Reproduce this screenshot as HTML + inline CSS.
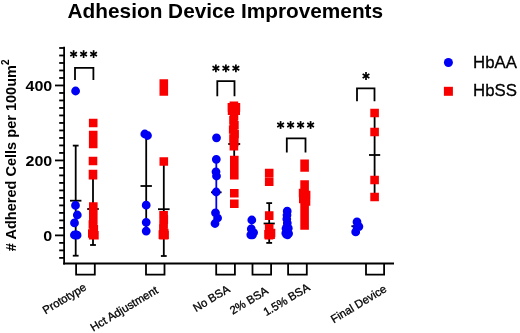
<!DOCTYPE html>
<html><head><meta charset="utf-8">
<style>
html,body{margin:0;padding:0;background:#fff;}
svg{display:block;will-change:transform;}
text{font-family:"Liberation Sans",sans-serif;}
</style></head>
<body>
<svg width="520" height="333" viewBox="0 0 520 333">
<rect width="520" height="333" fill="#fff"/>
<text x="67.6" y="18.3" font-size="20.8" font-weight="bold" fill="#000">Adhesion Device Improvements</text>
<text transform="translate(15.9,251.2) rotate(-90)" font-size="14.55" font-weight="bold" fill="#000"># Adhered Cells per 100um<tspan font-size="10" dy="-7">2</tspan></text>
<g font-size="15.3" font-weight="bold" fill="#000" text-anchor="end">
<text transform="translate(52.3,91.3) scale(1.05,1)">400</text>
<text transform="translate(52.3,166.1) scale(1.05,1)">200</text>
<text transform="translate(52.3,240.9) scale(1.05,1)">0</text>
</g>
<line x1="64.10" y1="46.70" x2="64.10" y2="264.40" stroke="#000" stroke-width="1.8"/>
<line x1="59.20" y1="257.88" x2="64.10" y2="257.88" stroke="#000" stroke-width="1.8"/>
<line x1="59.20" y1="250.38" x2="64.10" y2="250.38" stroke="#000" stroke-width="1.8"/>
<line x1="59.20" y1="242.89" x2="64.10" y2="242.89" stroke="#000" stroke-width="1.8"/>
<line x1="55.00" y1="235.39" x2="64.10" y2="235.39" stroke="#000" stroke-width="1.8"/>
<line x1="59.20" y1="227.89" x2="64.10" y2="227.89" stroke="#000" stroke-width="1.8"/>
<line x1="59.20" y1="220.40" x2="64.10" y2="220.40" stroke="#000" stroke-width="1.8"/>
<line x1="59.20" y1="212.90" x2="64.10" y2="212.90" stroke="#000" stroke-width="1.8"/>
<line x1="59.20" y1="205.41" x2="64.10" y2="205.41" stroke="#000" stroke-width="1.8"/>
<line x1="59.20" y1="197.91" x2="64.10" y2="197.91" stroke="#000" stroke-width="1.8"/>
<line x1="59.20" y1="190.41" x2="64.10" y2="190.41" stroke="#000" stroke-width="1.8"/>
<line x1="59.20" y1="182.92" x2="64.10" y2="182.92" stroke="#000" stroke-width="1.8"/>
<line x1="59.20" y1="175.42" x2="64.10" y2="175.42" stroke="#000" stroke-width="1.8"/>
<line x1="59.20" y1="167.93" x2="64.10" y2="167.93" stroke="#000" stroke-width="1.8"/>
<line x1="55.00" y1="160.43" x2="64.10" y2="160.43" stroke="#000" stroke-width="1.8"/>
<line x1="59.20" y1="152.93" x2="64.10" y2="152.93" stroke="#000" stroke-width="1.8"/>
<line x1="59.20" y1="145.44" x2="64.10" y2="145.44" stroke="#000" stroke-width="1.8"/>
<line x1="59.20" y1="137.94" x2="64.10" y2="137.94" stroke="#000" stroke-width="1.8"/>
<line x1="59.20" y1="130.45" x2="64.10" y2="130.45" stroke="#000" stroke-width="1.8"/>
<line x1="59.20" y1="122.95" x2="64.10" y2="122.95" stroke="#000" stroke-width="1.8"/>
<line x1="59.20" y1="115.45" x2="64.10" y2="115.45" stroke="#000" stroke-width="1.8"/>
<line x1="59.20" y1="107.96" x2="64.10" y2="107.96" stroke="#000" stroke-width="1.8"/>
<line x1="59.20" y1="100.46" x2="64.10" y2="100.46" stroke="#000" stroke-width="1.8"/>
<line x1="59.20" y1="92.97" x2="64.10" y2="92.97" stroke="#000" stroke-width="1.8"/>
<line x1="55.00" y1="85.47" x2="64.10" y2="85.47" stroke="#000" stroke-width="1.8"/>
<line x1="59.20" y1="77.97" x2="64.10" y2="77.97" stroke="#000" stroke-width="1.8"/>
<line x1="59.20" y1="70.48" x2="64.10" y2="70.48" stroke="#000" stroke-width="1.8"/>
<line x1="59.20" y1="62.98" x2="64.10" y2="62.98" stroke="#000" stroke-width="1.8"/>
<line x1="59.20" y1="55.49" x2="64.10" y2="55.49" stroke="#000" stroke-width="1.8"/>
<line x1="59.20" y1="47.99" x2="64.10" y2="47.99" stroke="#000" stroke-width="1.8"/>
<line x1="63.20" y1="263.40" x2="394.00" y2="263.40" stroke="#000" stroke-width="2.0"/>
<polyline points="76.1,263.4 76.1,274.6 94.8,274.6 94.8,263.4" fill="none" stroke="#000" stroke-width="1.8"/>
<polyline points="146.0,263.4 146.0,274.6 164.5,274.6 164.5,263.4" fill="none" stroke="#000" stroke-width="1.8"/>
<polyline points="216.2,263.4 216.2,274.6 234.9,274.6 234.9,263.4" fill="none" stroke="#000" stroke-width="1.8"/>
<polyline points="252.5,263.4 252.5,274.6 271.1,274.6 271.1,263.4" fill="none" stroke="#000" stroke-width="1.8"/>
<polyline points="288.1,263.4 288.1,274.6 306.8,274.6 306.8,263.4" fill="none" stroke="#000" stroke-width="1.8"/>
<polyline points="366.0,263.4 366.0,274.6 384.1,274.6 384.1,263.4" fill="none" stroke="#000" stroke-width="1.8"/>
<line x1="75.70" y1="145.60" x2="75.70" y2="255.70" stroke="#000" stroke-width="1.8"/>
<line x1="72.80" y1="145.60" x2="78.60" y2="145.60" stroke="#000" stroke-width="1.8"/>
<line x1="72.80" y1="255.70" x2="78.60" y2="255.70" stroke="#000" stroke-width="1.8"/>
<line x1="70.00" y1="200.70" x2="81.40" y2="200.70" stroke="#000" stroke-width="1.8"/>
<line x1="93.00" y1="174.00" x2="93.00" y2="245.00" stroke="#000" stroke-width="1.8"/>
<line x1="90.10" y1="174.00" x2="95.90" y2="174.00" stroke="#000" stroke-width="1.8"/>
<line x1="90.10" y1="245.00" x2="95.90" y2="245.00" stroke="#000" stroke-width="1.8"/>
<line x1="87.20" y1="209.00" x2="98.80" y2="209.00" stroke="#000" stroke-width="1.8"/>
<line x1="146.20" y1="138.00" x2="146.20" y2="234.00" stroke="#000" stroke-width="1.8"/>
<line x1="140.50" y1="186.00" x2="151.90" y2="186.00" stroke="#000" stroke-width="1.8"/>
<line x1="163.80" y1="161.40" x2="163.80" y2="256.00" stroke="#000" stroke-width="1.8"/>
<line x1="160.90" y1="161.40" x2="166.70" y2="161.40" stroke="#000" stroke-width="1.8"/>
<line x1="160.90" y1="256.00" x2="166.70" y2="256.00" stroke="#000" stroke-width="1.8"/>
<line x1="158.00" y1="209.20" x2="169.60" y2="209.20" stroke="#000" stroke-width="1.8"/>
<line x1="216.30" y1="159.30" x2="216.30" y2="225.00" stroke="#0000F5" stroke-width="1.8"/>
<line x1="211.00" y1="192.30" x2="221.60" y2="192.30" stroke="#000" stroke-width="1.8"/>
<line x1="234.20" y1="108.00" x2="234.20" y2="178.00" stroke="#000" stroke-width="1.8"/>
<line x1="228.20" y1="144.00" x2="240.20" y2="144.00" stroke="#000" stroke-width="1.8"/>
<line x1="269.20" y1="203.10" x2="269.20" y2="242.90" stroke="#000" stroke-width="1.8"/>
<line x1="266.30" y1="203.10" x2="272.10" y2="203.10" stroke="#000" stroke-width="1.8"/>
<line x1="266.30" y1="242.90" x2="272.10" y2="242.90" stroke="#000" stroke-width="1.8"/>
<line x1="263.60" y1="223.50" x2="274.80" y2="223.50" stroke="#000" stroke-width="1.8"/>
<line x1="351.40" y1="226.20" x2="362.00" y2="226.20" stroke="#000" stroke-width="1.8"/>
<line x1="374.60" y1="113.00" x2="374.60" y2="197.00" stroke="#000" stroke-width="1.8"/>
<line x1="369.00" y1="155.00" x2="380.20" y2="155.00" stroke="#000" stroke-width="1.8"/>
<polyline points="75.0,80.0 75.0,67.8 93.4,67.8 93.4,80.0" fill="none" stroke="#000" stroke-width="1.8"/>
<line x1="73.60" y1="50.20" x2="73.60" y2="58.00" stroke="#000" stroke-width="1.7"/>
<line x1="70.22" y1="52.15" x2="76.98" y2="56.05" stroke="#000" stroke-width="1.7"/>
<line x1="70.22" y1="56.05" x2="76.98" y2="52.15" stroke="#000" stroke-width="1.7"/>
<line x1="83.60" y1="50.20" x2="83.60" y2="58.00" stroke="#000" stroke-width="1.7"/>
<line x1="80.22" y1="52.15" x2="86.98" y2="56.05" stroke="#000" stroke-width="1.7"/>
<line x1="80.22" y1="56.05" x2="86.98" y2="52.15" stroke="#000" stroke-width="1.7"/>
<line x1="93.60" y1="50.20" x2="93.60" y2="58.00" stroke="#000" stroke-width="1.7"/>
<line x1="90.22" y1="52.15" x2="96.98" y2="56.05" stroke="#000" stroke-width="1.7"/>
<line x1="90.22" y1="56.05" x2="96.98" y2="52.15" stroke="#000" stroke-width="1.7"/>
<polyline points="217.3,96.3 217.3,81.2 234.5,81.2 234.5,96.3" fill="none" stroke="#000" stroke-width="1.8"/>
<line x1="215.90" y1="64.40" x2="215.90" y2="72.20" stroke="#000" stroke-width="1.7"/>
<line x1="212.52" y1="66.35" x2="219.28" y2="70.25" stroke="#000" stroke-width="1.7"/>
<line x1="212.52" y1="70.25" x2="219.28" y2="66.35" stroke="#000" stroke-width="1.7"/>
<line x1="225.90" y1="64.40" x2="225.90" y2="72.20" stroke="#000" stroke-width="1.7"/>
<line x1="222.52" y1="66.35" x2="229.28" y2="70.25" stroke="#000" stroke-width="1.7"/>
<line x1="222.52" y1="70.25" x2="229.28" y2="66.35" stroke="#000" stroke-width="1.7"/>
<line x1="235.90" y1="64.40" x2="235.90" y2="72.20" stroke="#000" stroke-width="1.7"/>
<line x1="232.52" y1="66.35" x2="239.28" y2="70.25" stroke="#000" stroke-width="1.7"/>
<line x1="232.52" y1="70.25" x2="239.28" y2="66.35" stroke="#000" stroke-width="1.7"/>
<polyline points="286.8,152.5 286.8,138.3 305.5,138.3 305.5,152.5" fill="none" stroke="#000" stroke-width="1.8"/>
<line x1="280.60" y1="121.10" x2="280.60" y2="128.90" stroke="#000" stroke-width="1.7"/>
<line x1="277.22" y1="123.05" x2="283.98" y2="126.95" stroke="#000" stroke-width="1.7"/>
<line x1="277.22" y1="126.95" x2="283.98" y2="123.05" stroke="#000" stroke-width="1.7"/>
<line x1="290.60" y1="121.10" x2="290.60" y2="128.90" stroke="#000" stroke-width="1.7"/>
<line x1="287.22" y1="123.05" x2="293.98" y2="126.95" stroke="#000" stroke-width="1.7"/>
<line x1="287.22" y1="126.95" x2="293.98" y2="123.05" stroke="#000" stroke-width="1.7"/>
<line x1="300.60" y1="121.10" x2="300.60" y2="128.90" stroke="#000" stroke-width="1.7"/>
<line x1="297.22" y1="123.05" x2="303.98" y2="126.95" stroke="#000" stroke-width="1.7"/>
<line x1="297.22" y1="126.95" x2="303.98" y2="123.05" stroke="#000" stroke-width="1.7"/>
<line x1="310.60" y1="121.10" x2="310.60" y2="128.90" stroke="#000" stroke-width="1.7"/>
<line x1="307.22" y1="123.05" x2="313.98" y2="126.95" stroke="#000" stroke-width="1.7"/>
<line x1="307.22" y1="126.95" x2="313.98" y2="123.05" stroke="#000" stroke-width="1.7"/>
<polyline points="357.0,101.3 357.0,88.3 374.5,88.3 374.5,101.3" fill="none" stroke="#000" stroke-width="1.8"/>
<line x1="366.00" y1="72.10" x2="366.00" y2="79.90" stroke="#000" stroke-width="1.7"/>
<line x1="362.62" y1="74.05" x2="369.38" y2="77.95" stroke="#000" stroke-width="1.7"/>
<line x1="362.62" y1="77.95" x2="369.38" y2="74.05" stroke="#000" stroke-width="1.7"/>
<path d="M71.20,91a4.4,4.4 0 1,0 8.80,0a4.4,4.4 0 1,0 -8.80,0zM71.10,205.4a4.4,4.4 0 1,0 8.80,0a4.4,4.4 0 1,0 -8.80,0zM72.90,215a4.4,4.4 0 1,0 8.80,0a4.4,4.4 0 1,0 -8.80,0zM70.10,222.9a4.4,4.4 0 1,0 8.80,0a4.4,4.4 0 1,0 -8.80,0zM70.00,235a4.4,4.4 0 1,0 8.80,0a4.4,4.4 0 1,0 -8.80,0zM72.70,235.2a4.4,4.4 0 1,0 8.80,0a4.4,4.4 0 1,0 -8.80,0zM71.40,234.6a4.4,4.4 0 1,0 8.80,0a4.4,4.4 0 1,0 -8.80,0zM140.40,134a4.4,4.4 0 1,0 8.80,0a4.4,4.4 0 1,0 -8.80,0zM143.10,135.5a4.4,4.4 0 1,0 8.80,0a4.4,4.4 0 1,0 -8.80,0zM141.80,205.2a4.4,4.4 0 1,0 8.80,0a4.4,4.4 0 1,0 -8.80,0zM141.80,222.3a4.4,4.4 0 1,0 8.80,0a4.4,4.4 0 1,0 -8.80,0zM141.80,231.1a4.4,4.4 0 1,0 8.80,0a4.4,4.4 0 1,0 -8.80,0zM212.10,137.8a4.4,4.4 0 1,0 8.80,0a4.4,4.4 0 1,0 -8.80,0zM211.90,159.3a4.4,4.4 0 1,0 8.80,0a4.4,4.4 0 1,0 -8.80,0zM211.60,171.8a4.4,4.4 0 1,0 8.80,0a4.4,4.4 0 1,0 -8.80,0zM212.10,176a4.4,4.4 0 1,0 8.80,0a4.4,4.4 0 1,0 -8.80,0zM211.80,192a4.4,4.4 0 1,0 8.80,0a4.4,4.4 0 1,0 -8.80,0zM211.10,212.8a4.4,4.4 0 1,0 8.80,0a4.4,4.4 0 1,0 -8.80,0zM213.20,218a4.4,4.4 0 1,0 8.80,0a4.4,4.4 0 1,0 -8.80,0zM210.60,223.5a4.4,4.4 0 1,0 8.80,0a4.4,4.4 0 1,0 -8.80,0zM247.40,220.0a4.4,4.4 0 1,0 8.80,0a4.4,4.4 0 1,0 -8.80,0zM246.90,228.9a4.4,4.4 0 1,0 8.80,0a4.4,4.4 0 1,0 -8.80,0zM249.20,232.6a4.4,4.4 0 1,0 8.80,0a4.4,4.4 0 1,0 -8.80,0zM246.40,234.8a4.4,4.4 0 1,0 8.80,0a4.4,4.4 0 1,0 -8.80,0zM248.10,234.8a4.4,4.4 0 1,0 8.80,0a4.4,4.4 0 1,0 -8.80,0zM282.80,211.2a4.4,4.4 0 1,0 8.80,0a4.4,4.4 0 1,0 -8.80,0zM282.60,215a4.4,4.4 0 1,0 8.80,0a4.4,4.4 0 1,0 -8.80,0zM282.40,219a4.4,4.4 0 1,0 8.80,0a4.4,4.4 0 1,0 -8.80,0zM282.90,223a4.4,4.4 0 1,0 8.80,0a4.4,4.4 0 1,0 -8.80,0zM282.20,227a4.4,4.4 0 1,0 8.80,0a4.4,4.4 0 1,0 -8.80,0zM283.00,231a4.4,4.4 0 1,0 8.80,0a4.4,4.4 0 1,0 -8.80,0zM282.10,234.5a4.4,4.4 0 1,0 8.80,0a4.4,4.4 0 1,0 -8.80,0zM283.10,234.8a4.4,4.4 0 1,0 8.80,0a4.4,4.4 0 1,0 -8.80,0zM281.40,233.2a4.4,4.4 0 1,0 8.80,0a4.4,4.4 0 1,0 -8.80,0zM284.20,233.6a4.4,4.4 0 1,0 8.80,0a4.4,4.4 0 1,0 -8.80,0zM281.60,228.6a4.4,4.4 0 1,0 8.80,0a4.4,4.4 0 1,0 -8.80,0zM283.90,228.2a4.4,4.4 0 1,0 8.80,0a4.4,4.4 0 1,0 -8.80,0zM352.60,221.9a4.4,4.4 0 1,0 8.80,0a4.4,4.4 0 1,0 -8.80,0zM354.50,226.6a4.4,4.4 0 1,0 8.80,0a4.4,4.4 0 1,0 -8.80,0zM352.60,227.0a4.4,4.4 0 1,0 8.80,0a4.4,4.4 0 1,0 -8.80,0zM351.30,231.9a4.4,4.4 0 1,0 8.80,0a4.4,4.4 0 1,0 -8.80,0z" fill="#0000F5"/>
<path d="M88.90,118.70h8.6v8.6h-8.6zM88.90,130.80h8.6v8.6h-8.6zM88.90,139.60h8.6v8.6h-8.6zM88.70,156.70h8.6v8.6h-8.6zM88.70,169.70h8.6v8.6h-8.6zM88.70,170.90h8.6v8.6h-8.6zM89.00,202.30h8.6v8.6h-8.6zM89.00,206.70h8.6v8.6h-8.6zM89.00,211.20h8.6v8.6h-8.6zM89.00,215.70h8.6v8.6h-8.6zM88.60,220.20h8.6v8.6h-8.6zM89.50,224.70h8.6v8.6h-8.6zM88.00,229.20h8.6v8.6h-8.6zM90.10,231.00h8.6v8.6h-8.6zM88.90,231.00h8.6v8.6h-8.6zM159.50,79.20h8.6v8.6h-8.6zM159.50,87.20h8.6v8.6h-8.6zM159.50,157.20h8.6v8.6h-8.6zM159.30,211.00h8.6v8.6h-8.6zM159.50,215.20h8.6v8.6h-8.6zM159.30,219.70h8.6v8.6h-8.6zM159.10,224.20h8.6v8.6h-8.6zM159.90,228.70h8.6v8.6h-8.6zM159.30,230.90h8.6v8.6h-8.6zM158.60,230.30h8.6v8.6h-8.6zM160.30,230.70h8.6v8.6h-8.6zM229.60,101.50h8.6v8.6h-8.6zM227.60,103.10h8.6v8.6h-8.6zM231.60,103.10h8.6v8.6h-8.6zM227.80,106.30h8.6v8.6h-8.6zM231.40,106.30h8.6v8.6h-8.6zM229.70,111.30h8.6v8.6h-8.6zM229.20,116.10h8.6v8.6h-8.6zM230.10,120.70h8.6v8.6h-8.6zM228.90,125.20h8.6v8.6h-8.6zM230.30,129.70h8.6v8.6h-8.6zM229.20,134.20h8.6v8.6h-8.6zM230.00,137.70h8.6v8.6h-8.6zM229.60,141.90h8.6v8.6h-8.6zM230.00,155.70h8.6v8.6h-8.6zM230.00,160.70h8.6v8.6h-8.6zM230.00,165.70h8.6v8.6h-8.6zM230.00,171.00h8.6v8.6h-8.6zM230.00,189.00h8.6v8.6h-8.6zM230.00,199.50h8.6v8.6h-8.6zM264.90,168.70h8.6v8.6h-8.6zM264.90,177.40h8.6v8.6h-8.6zM264.90,211.30h8.6v8.6h-8.6zM264.90,224.00h8.6v8.6h-8.6zM265.10,228.70h8.6v8.6h-8.6zM264.70,231.00h8.6v8.6h-8.6zM264.20,230.00h8.6v8.6h-8.6zM266.70,228.70h8.6v8.6h-8.6zM266.30,230.30h8.6v8.6h-8.6zM300.30,159.40h8.6v8.6h-8.6zM300.30,163.20h8.6v8.6h-8.6zM300.30,180.30h8.6v8.6h-8.6zM300.30,183.70h8.6v8.6h-8.6zM298.80,188.70h8.6v8.6h-8.6zM301.80,190.70h8.6v8.6h-8.6zM299.00,194.70h8.6v8.6h-8.6zM301.70,197.20h8.6v8.6h-8.6zM300.30,199.20h8.6v8.6h-8.6zM300.30,203.20h8.6v8.6h-8.6zM300.30,207.70h8.6v8.6h-8.6zM300.30,212.20h8.6v8.6h-8.6zM300.30,216.70h8.6v8.6h-8.6zM300.30,221.10h8.6v8.6h-8.6zM370.30,108.70h8.6v8.6h-8.6zM370.30,127.70h8.6v8.6h-8.6zM370.30,175.70h8.6v8.6h-8.6zM370.30,192.70h8.6v8.6h-8.6z" fill="#F80000"/>
<g font-size="11.4" fill="#000" stroke="#000" stroke-width="0.3" text-anchor="end">
<text transform="translate(87.25,289.35) rotate(-31)">Prototype</text>
<text transform="translate(158.95,292.25) rotate(-31)">Hct Adjustment</text>
<text transform="translate(230.65,291.25) rotate(-31)">No BSA</text>
<text transform="translate(269.05,292.9) rotate(-31)">2% BSA</text>
<text transform="translate(310.65,289.6) rotate(-31)">1.5% BSA</text>
<text transform="translate(387.45,291.1) rotate(-31)">Final Device</text>
</g>
<circle cx="448.4" cy="62.5" r="4.5" fill="#0000F5"/>
<rect x="443.9" y="86.8" width="9" height="9" fill="#F80000"/>
<g font-size="16.8" fill="#000" stroke="#000" stroke-width="0.3">
<text x="473.1" y="67.8">HbAA</text>
<text x="473.1" y="96.3">HbSS</text>
</g>
</svg>
</body></html>
